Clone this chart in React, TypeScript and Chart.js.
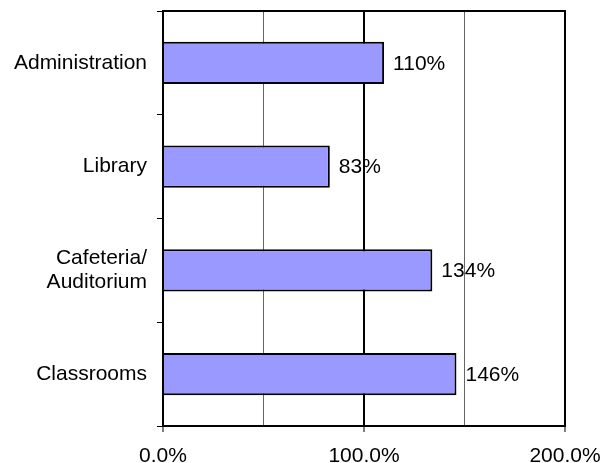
import React, { useEffect, useRef } from "react";
import { Chart, registerables } from "chart.js";

Chart.register(...registerables);

const categories: (string | string[])[] = [
  "Administration",
  "Library",
  ["Cafeteria/", "Auditorium"],
  "Classrooms",
];
const values: number[] = [110, 83, 134, 146];
const xMajorTicks: number[] = [0, 100, 200];

const FONT = "'Liberation Sans', Arial, sans-serif";
const FS = 21;

const valueLabels = {
  id: "valueLabels",
  afterDatasetsDraw(chart: any) {
    const ctx = chart.ctx;
    const meta = chart.getDatasetMeta(0);
    ctx.save();
    ctx.font = `${FS}px ${FONT}`;
    ctx.fillStyle = "#000";
    ctx.textAlign = "left";
    ctx.textBaseline = "middle";
    meta.data.forEach((bar: any, i: number) => {
      ctx.fillText(`${values[i]}%`, bar.x + 9, bar.y + 1);
    });
    ctx.restore();
  },
};

const topBorder = {
  id: "topBorder",
  afterDraw(chart: any) {
    const { ctx, chartArea } = chart;
    ctx.save();
    ctx.strokeStyle = "#000";
    ctx.lineWidth = 2;
    ctx.beginPath();
    ctx.moveTo(chartArea.left - 1, chartArea.top);
    ctx.lineTo(chartArea.right + 1, chartArea.top);
    ctx.stroke();
    ctx.restore();
  },
};

export default function App() {
  const ref = useRef<HTMLCanvasElement | null>(null);
  useEffect(() => {
    if (!ref.current) return;
    const chart = new Chart(ref.current, {
      type: "bar",
      data: {
        labels: categories as any,
        datasets: [
          {
            data: values,
            backgroundColor: "#9999FF",
            borderColor: "#000",
            borderWidth: 2,
            barPercentage: 0.405,
            categoryPercentage: 1,
          },
        ],
      },
      options: {
        indexAxis: "y",
        animation: false,
        responsive: false,
        layout: { padding: { top: 11, right: 38, left: 0, bottom: 0 } },
        plugins: {
          legend: { display: false },
          tooltip: { enabled: false },
        },
        scales: {
          x: {
            min: 0,
            max: 200,
            ticks: {
              stepSize: 50,
              color: "#000",
              font: { family: FONT, size: FS },
              padding: 12,
              maxRotation: 0,
              autoSkip: false,
              callback: (v: any) =>
                xMajorTicks.includes(Number(v)) ? `${Number(v).toFixed(1)}%` : "",
            },
            grid: {
              color: (c: any) =>
                c.tick && xMajorTicks.includes(c.tick.value) ? "#000" : "#666",
              lineWidth: (c: any) =>
                c.tick && xMajorTicks.includes(c.tick.value) ? 2 : 1,
              tickColor: (c: any) =>
                c.tick && xMajorTicks.includes(c.tick.value) ? "#000" : "rgba(0,0,0,0)",
              tickWidth: 1,
              tickLength: 6,
            },
            border: { color: "#000", width: 2 },
            afterFit: (scale: any) => {
              scale.height = 37;
              scale.paddingLeft = 0;
              scale.paddingRight = 0;
            },
          },
          y: {
            ticks: {
              color: "#000",
              font: { family: FONT, size: FS, lineHeight: 1.15 },
              padding: 10,
            },
            grid: {
              offset: true,
              drawOnChartArea: false,
              drawTicks: true,
              tickLength: 6,
              tickColor: "#000",
              tickWidth: 1,
            },
            border: { color: "#000", width: 2 },
            afterFit: (scale: any) => {
              scale.width = 163;
              scale.paddingTop = 0;
              scale.paddingBottom = 0;
            },
          },
        },
      },
      plugins: [valueLabels, topBorder],
    });
    return () => chart.destroy();
  }, []);
  return (
    <div style={{ position: "absolute", left: 0, top: 0, width: 603, height: 463, background: "#fff" }}>
      <canvas ref={ref} width={603} height={463} />
    </div>
  );
}
